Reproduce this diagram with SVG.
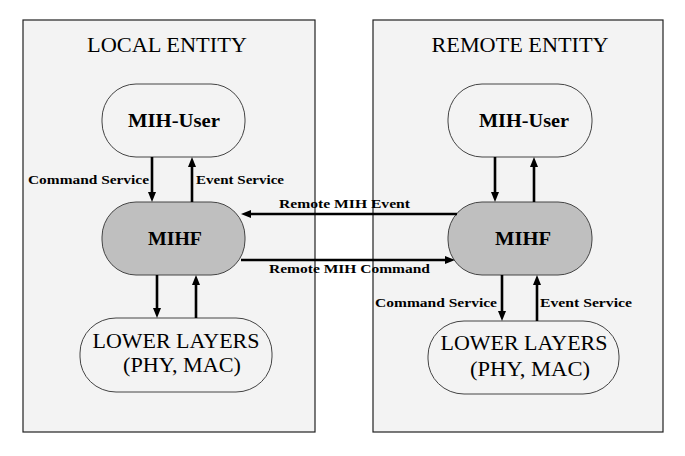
<svg xmlns="http://www.w3.org/2000/svg" width="685" height="456" viewBox="0 0 685 456">
<style>
.panel{fill:#f3f3f3;stroke:#222;stroke-width:1.2}
.node{fill:#f3f3f3;stroke:#444;stroke-width:1}
.mihf{fill:#bfbfbf;stroke:#444;stroke-width:1}
text{font-family:'Liberation Serif','DejaVu Serif','Times New Roman',serif;fill:#000}
.title{font-size:22px}
.big{font-size:20px}
.bigb{font-size:19px;font-weight:bold}
.lbl{font-size:13.5px;font-weight:bold}
.arr{stroke:#000;stroke-width:2.6;fill:none;marker-end:url(#ah)}
</style>
<defs>
<marker id="ah" viewBox="0 0 10 8" refX="1" refY="4" markerWidth="10" markerHeight="8" markerUnits="userSpaceOnUse" orient="auto">
<path d="M0,0 L10,4 L0,8 z" fill="#000"/>
</marker>
</defs>
<rect width="685" height="456" fill="#fff"/>
<g id="local-entity">
<rect class="panel" x="23" y="20" width="292" height="412"/>
<text class="title" x="167" y="52" text-anchor="middle" textLength="160" lengthAdjust="spacingAndGlyphs">LOCAL ENTITY</text>
</g>
<g id="remote-entity">
<rect class="panel" x="373" y="20" width="290" height="412"/>
<text class="title" x="520" y="52" text-anchor="middle" textLength="177" lengthAdjust="spacingAndGlyphs">REMOTE ENTITY</text>
</g>
<g id="local-mih-user">
<rect class="node" x="102" y="84" width="143" height="73" rx="34" ry="35"/>
<text class="bigb" x="174" y="127" text-anchor="middle" textLength="92" lengthAdjust="spacingAndGlyphs">MIH-User</text>
</g>
<g id="local-mihf">
<rect class="mihf" x="102" y="202" width="143" height="73" rx="34" ry="35"/>
<text class="bigb" x="175" y="245" text-anchor="middle" textLength="54" lengthAdjust="spacingAndGlyphs">MIHF</text>
</g>
<g id="local-lower-layers">
<rect class="node" x="80" y="318" width="192" height="74" rx="36" ry="35"/>
<text class="big" x="176" y="348" text-anchor="middle" textLength="167" lengthAdjust="spacingAndGlyphs">LOWER LAYERS</text>
<text class="big" x="182" y="372" text-anchor="middle" textLength="118" lengthAdjust="spacingAndGlyphs">(PHY, MAC)</text>
</g>
<g id="remote-mih-user">
<rect class="node" x="448" y="84" width="144" height="73" rx="34" ry="35"/>
<text class="bigb" x="524" y="127" text-anchor="middle" textLength="90" lengthAdjust="spacingAndGlyphs">MIH-User</text>
</g>
<g id="remote-mihf">
<rect class="mihf" x="448" y="202" width="144" height="73" rx="34" ry="35"/>
<text class="bigb" x="523" y="245" text-anchor="middle" textLength="56" lengthAdjust="spacingAndGlyphs">MIHF</text>
</g>
<g id="remote-lower-layers">
<rect class="node" x="428" y="321" width="191" height="73" rx="36" ry="35"/>
<text class="big" x="524" y="350" text-anchor="middle" textLength="167" lengthAdjust="spacingAndGlyphs">LOWER LAYERS</text>
<text class="big" x="530" y="376" text-anchor="middle" textLength="120" lengthAdjust="spacingAndGlyphs">(PHY, MAC)</text>
</g>
<g id="connectors">
<line class="arr" x1="152" y1="157" x2="152" y2="193"/>
<line class="arr" x1="192" y1="202" x2="192" y2="166"/>
<line class="arr" x1="157" y1="275" x2="157" y2="309"/>
<line class="arr" x1="196" y1="318" x2="196" y2="284"/>
<line class="arr" x1="495" y1="157" x2="495" y2="193"/>
<line class="arr" x1="534" y1="202" x2="534" y2="166"/>
<line class="arr" x1="502" y1="275" x2="502" y2="312"/>
<line class="arr" x1="537" y1="321" x2="537" y2="284"/>
<line class="arr" x1="457" y1="214" x2="250" y2="214"/>
<line class="arr" x1="241" y1="260" x2="446" y2="260"/>
<text class="lbl" x="149" y="184" text-anchor="end" textLength="121" lengthAdjust="spacingAndGlyphs">Command Service</text>
<text class="lbl" x="196" y="184" textLength="88" lengthAdjust="spacingAndGlyphs">Event Service</text>
<text class="lbl" x="375" y="307" textLength="122" lengthAdjust="spacingAndGlyphs">Command Service</text>
<text class="lbl" x="540" y="307" textLength="92" lengthAdjust="spacingAndGlyphs">Event Service</text>
<text class="lbl" x="279" y="208" textLength="131" lengthAdjust="spacingAndGlyphs">Remote MIH Event</text>
<text class="lbl" x="269" y="273" textLength="161" lengthAdjust="spacingAndGlyphs">Remote MIH Command</text>
</g>
</svg>
